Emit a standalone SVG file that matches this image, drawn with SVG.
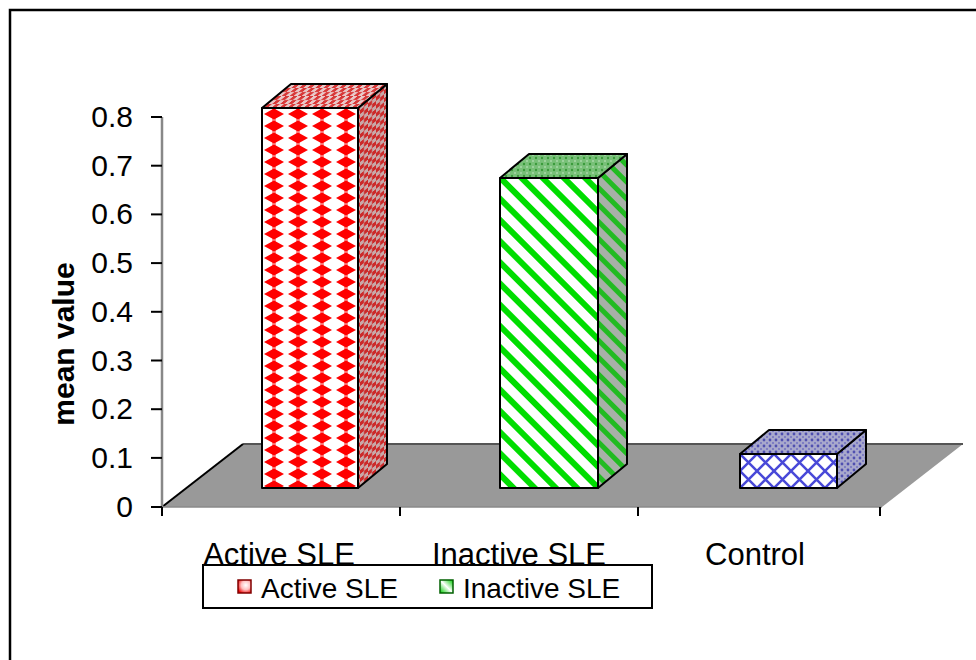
<svg xmlns="http://www.w3.org/2000/svg" width="976" height="660" viewBox="0 0 976 660">
<style>
  text { font-family: "Liberation Sans", Arial, sans-serif; fill: #000; }
  .num { font-size: 30px; text-anchor: end; }
  .cat { font-size: 31px; text-anchor: middle; }
  .leg { font-size: 28px; }
  .ttl { font-size: 30px; font-weight: bold; text-anchor: middle; }
  .edge { stroke: #000; stroke-width: 2; stroke-linejoin: round; }
  .tick { stroke: #000; stroke-width: 2; }
</style>
<defs>
  <pattern id="redFront" patternUnits="userSpaceOnUse" x="262" y="108" width="24" height="12">
    <rect width="24" height="12" fill="#fff"/>
    <rect x="10" y="0" width="4" height="12" fill="#ff9090"/>
    <polygon points="2,6 12,0.5 22,6 12,11.5" fill="#ff0000"/>
  </pattern>
  <pattern id="redSide" patternUnits="userSpaceOnUse" width="8" height="8" patternTransform="skewY(-39.6)">
    <rect width="8" height="8" fill="#c8a8a8"/>
    <rect width="4" height="4" fill="#cc2a2a"/>
    <rect x="4" y="4" width="4" height="4" fill="#cc2a2a"/>
  </pattern>
  <pattern id="redTop" patternUnits="userSpaceOnUse" width="8" height="8" patternTransform="skewX(-50)">
    <rect width="8" height="8" fill="#e8c8c8"/>
    <rect width="4" height="4" fill="#d83838"/>
    <rect x="4" y="4" width="4" height="4" fill="#d83838"/>
  </pattern>
  <pattern id="greenFront" patternUnits="userSpaceOnUse" width="15" height="15" patternTransform="rotate(-45)">
    <rect width="15" height="15" fill="#fff"/>
    <rect width="6" height="15" fill="#00dd00"/>
  </pattern>
  <pattern id="greenSide" patternUnits="userSpaceOnUse" width="12" height="12" patternTransform="rotate(-45)">
    <rect width="12" height="12" fill="#a8b0a8"/>
    <rect width="5" height="12" fill="#22bb22"/>
  </pattern>
  <pattern id="greenTop" patternUnits="userSpaceOnUse" width="6" height="6">
    <rect width="6" height="6" fill="#78c078"/>
    <circle cx="2" cy="2" r="1.2" fill="#3a9a3a"/>
    <circle cx="5" cy="5" r="1" fill="#a8d8a8"/>
  </pattern>
  <pattern id="blueFront" patternUnits="userSpaceOnUse" x="740" y="454" width="17" height="17">
    <rect width="17" height="17" fill="#fff"/>
    <path d="M0,0 L17,17 M17,0 L0,17" stroke="#4848d8" stroke-width="2.5"/>
  </pattern>
  <pattern id="blueSide" patternUnits="userSpaceOnUse" width="6" height="6">
    <rect width="6" height="6" fill="#a8a8cc"/>
    <circle cx="2" cy="2" r="1.4" fill="#5050b0"/>
    <circle cx="5" cy="5" r="1" fill="#7070c0"/>
  </pattern>
  <radialGradient id="legRed" cx="0.6" cy="0.4" r="0.7">
    <stop offset="0" stop-color="#ffffff"/>
    <stop offset="0.5" stop-color="#ffc0c0"/>
    <stop offset="1" stop-color="#ee0000"/>
  </radialGradient>
  <linearGradient id="legGreen" x1="0" y1="1" x2="1" y2="0">
    <stop offset="0" stop-color="#00cc00"/>
    <stop offset="0.5" stop-color="#ffffff"/>
    <stop offset="1" stop-color="#00cc00"/>
  </linearGradient>
</defs>

<rect width="976" height="660" fill="#fff"/>
<path d="M10,660 L10,10 L976,10" fill="none" stroke="#000" stroke-width="2.5"/>

<g id="floor">
  <polygon points="162,507 243,444 963,444 882,507" fill="#999999"/>
  <line x1="243" y1="444" x2="963" y2="444" stroke="#555" stroke-width="2"/>
  <line x1="162" y1="507" x2="243" y2="444" stroke="#000" stroke-width="2"/>
  <line x1="162" y1="507" x2="882" y2="507" stroke="#8a8a8a" stroke-width="1.5"/>
</g>

<g id="axes">
  <line x1="162" y1="117" x2="162" y2="507" stroke="#888" stroke-width="2.5"/>
  <g class="tick">
    <line x1="151" y1="117" x2="162" y2="117"/>
    <line x1="151" y1="165.7" x2="162" y2="165.7"/>
    <line x1="151" y1="214.4" x2="162" y2="214.4"/>
    <line x1="151" y1="263.1" x2="162" y2="263.1"/>
    <line x1="151" y1="311.8" x2="162" y2="311.8"/>
    <line x1="151" y1="360.5" x2="162" y2="360.5"/>
    <line x1="151" y1="409.2" x2="162" y2="409.2"/>
    <line x1="151" y1="457.9" x2="162" y2="457.9"/>
    <line x1="151" y1="507" x2="162" y2="507"/>
    <line x1="162" y1="507" x2="162" y2="516"/>
    <line x1="400" y1="507" x2="400" y2="516"/>
    <line x1="638" y1="507" x2="638" y2="516"/>
    <line x1="880" y1="507" x2="880" y2="516"/>
  </g>
  <text class="num" x="133" y="127">0.8</text>
  <text class="num" x="133" y="175.7">0.7</text>
  <text class="num" x="133" y="224.4">0.6</text>
  <text class="num" x="133" y="273.1">0.5</text>
  <text class="num" x="133" y="321.8">0.4</text>
  <text class="num" x="133" y="370.5">0.3</text>
  <text class="num" x="133" y="419.2">0.2</text>
  <text class="num" x="133" y="467.9">0.1</text>
  <text class="num" x="133" y="517">0</text>
  <text class="ttl" transform="translate(74,344) rotate(-90)">mean value</text>
  <text class="cat" x="279" y="565">Active SLE</text>
  <text class="cat" x="519" y="565">Inactive SLE</text>
  <text class="cat" x="755" y="565">Control</text>
</g>

<g id="bar-active">
  <polygon class="edge" points="358,108 387,84 387,464 358,488" fill="url(#redSide)"/>
  <polygon class="edge" points="262,108 291,84 387,84 358,108" fill="url(#redTop)"/>
  <rect class="edge" x="262" y="108" width="96" height="380" fill="url(#redFront)"/>
</g>

<g id="bar-inactive">
  <polygon class="edge" points="598,178 627,154 627,464 598,488" fill="url(#greenSide)"/>
  <polygon class="edge" points="500,178 529,154 627,154 598,178" fill="url(#greenTop)"/>
  <rect class="edge" x="500" y="178" width="98" height="310" fill="url(#greenFront)"/>
</g>

<g id="bar-control">
  <polygon class="edge" points="837,454 866,430 866,464 837,488" fill="url(#blueSide)"/>
  <polygon class="edge" points="740,454 769,430 866,430 837,454" fill="url(#blueSide)"/>
  <rect class="edge" x="740" y="454" width="97" height="34" fill="url(#blueFront)"/>
</g>

<g id="legend">
  <rect x="203" y="565" width="449" height="43" fill="#fff" stroke="#000" stroke-width="2"/>
  <rect x="238" y="580" width="13" height="13" fill="url(#legRed)" stroke="#800000" stroke-width="1.5"/>
  <text class="leg" x="261" y="598">Active SLE</text>
  <rect x="440" y="580" width="13" height="13" fill="url(#legGreen)" stroke="#006000" stroke-width="1.5"/>
  <text class="leg" x="463" y="598">Inactive SLE</text>
</g>
</svg>
